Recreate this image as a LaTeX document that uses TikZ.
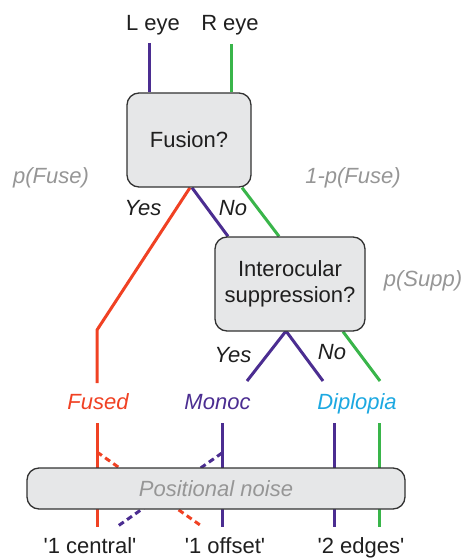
\documentclass[tikz,border=0pt]{standalone}
\usepackage{fontspec}
\setmainfont{Liberation Sans}
\pgfdeclarelayer{bg}
\pgfsetlayers{bg,main}
\definecolor{cpurple}{RGB}{75,45,145}
\definecolor{cgreen}{RGB}{57,181,74}
\definecolor{cred}{RGB}{240,65,35}
\definecolor{ccyan}{RGB}{28,168,225}
\definecolor{cgray}{RGB}{150,150,150}
\definecolor{boxfill}{RGB}{230,231,232}
\definecolor{boxline}{RGB}{50,50,50}
\begin{document}
\begin{tikzpicture}[x=1pt,y=-1pt,
  font=\fontsize{22}{26}\selectfont,
  box/.style={draw=boxline, fill=boxfill, rounded corners=12pt, line width=1.3pt, inner sep=0pt, text=black!88},
  lbl/.style={anchor=base, inner sep=0pt, text=black!88},
  itl/.style={lbl, font=\fontsize{22}{26}\selectfont\itshape},
  prob/.style={itl, text=cgray},
  wire/.style={line width=3pt},
  dwire/.style={line width=3pt, dash pattern=on 6pt off 4pt}]
\useasboundingbox (0,0) rectangle (465,559);

% labels
\node[lbl] (leye) at (153,31) {L eye};
\node[lbl] (reye) at (230,31) {R eye};
\node[prob] (pfuse) at (51,183) {p(Fuse)};
\node[prob] (qfuse) at (353,183) {1-p(Fuse)};
\node[prob] (psupp) at (423,286) {p(Supp)};
\node[itl] (yes1) at (143,215) {Yes};
\node[itl] (no1) at (233,215) {No};
\node[itl] (yes2) at (233,362) {Yes};
\node[itl] (no2) at (332,359) {No};
\node[itl, text=cred] (fused) at (98,409) {Fused};
\node[itl, text=cpurple] (monoc) at (217.5,409) {Monoc};
\node[itl, text=ccyan] (diplo) at (357,409) {Diplopia};
\node[lbl] (central) at (90,553.5) {\textquotesingle1 central\textquotesingle};
\node[lbl] (offset) at (225,553.5) {\textquotesingle1 offset\textquotesingle};
\node[lbl] (edges) at (361,553.5) {\textquotesingle2 edges\textquotesingle};

% boxes
\node[box, minimum width=124pt, minimum height=94pt] (fusion) at (189,140) {Fusion?};
\node[box, minimum width=150pt, minimum height=94pt, align=center] (interoc) at (290,284) {Interocular\\suppression?};
\node[box, minimum width=378pt, minimum height=41pt, font=\fontsize{22}{26}\selectfont\itshape, text=cgray] (noise) at (216,488.5) {Positional noise};

% coordinates
\coordinate (lTop) at (149,43);
\coordinate (rTop) at (231,44);
\coordinate (redBend) at (97,330);
\coordinate (redEnd) at (97,383);
\coordinate (supApex) at (286,331);
\coordinate (monEnd) at (247,381);
\coordinate (dipPEnd) at (323,381);
\coordinate (dipGEnd) at (380,381);
\coordinate (a1) at (97,423);  \coordinate (a2) at (97,527);
\coordinate (b1) at (222,423); \coordinate (b2) at (222,527);
\coordinate (c1) at (334,423); \coordinate (c2) at (334,527);
\coordinate (d1) at (379,423); \coordinate (d2) at (379,527);
\coordinate (rd1) at (97,452);  \coordinate (rd2) at (200,525);
\coordinate (pd1) at (222,453); \coordinate (pd2) at (118,526);

\begin{pgfonlayer}{bg}
\draw[wire, cpurple] (lTop) -- (lTop |- fusion.north);
\draw[wire, cgreen] (rTop) -- (rTop |- fusion.north);
\draw[wire, cred] ([xshift=1pt]fusion.south) -- (redBend) -- (redEnd);
\draw[wire, cpurple] ([xshift=3pt]fusion.south) -- ([xshift=-62pt]interoc.north);
\draw[wire, cgreen] ([xshift=53pt]fusion.south) -- ([xshift=-11pt]interoc.north);
\draw[wire, cpurple] (monEnd) -- (supApex) -- (dipPEnd);
\draw[wire, cgreen] ([xshift=53pt]interoc.south) -- (dipGEnd);
\draw[wire, cred] (a1) -- (a2);
\draw[wire, cpurple] (b1) -- (b2);
\draw[wire, cpurple] (c1) -- (c2);
\draw[wire, cgreen] (d1) -- (d2);
\draw[dwire, cred] (rd1) -- (rd2);
\draw[dwire, cpurple] (pd1) -- (pd2);
\end{pgfonlayer}
\end{tikzpicture}
\end{document}
